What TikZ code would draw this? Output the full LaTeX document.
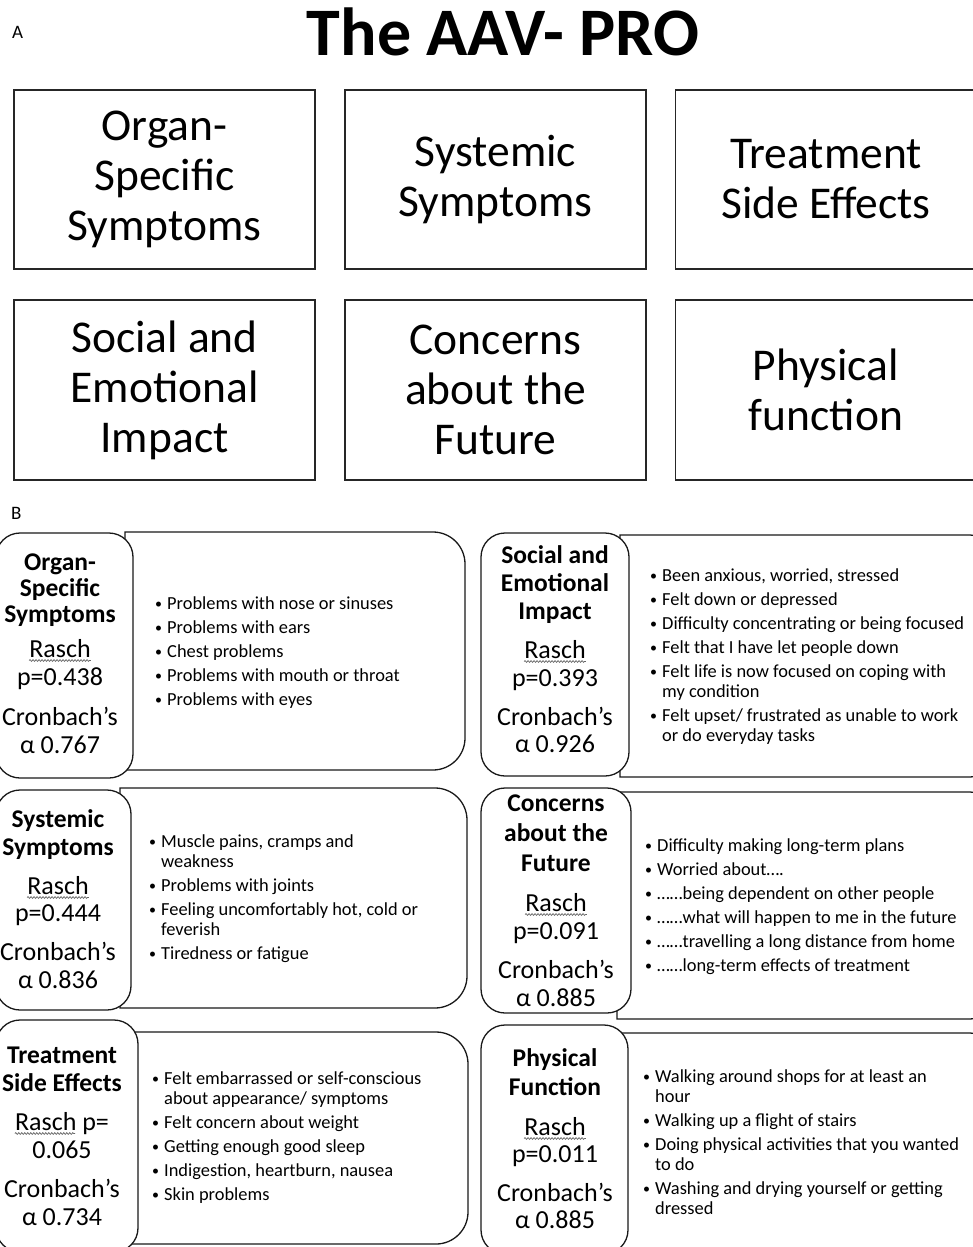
\documentclass[tikz,border=0pt]{standalone}
\usepackage{fontspec}
\setmainfont{Carlito}
\usetikzlibrary{decorations.pathmorphing,calc}
\newcommand\bul{\makebox[12pt][l]{\raisebox{0.8pt}{\fontsize{14}{14}\selectfont\textbullet}}}
% box with rounded right-hand corners: x1 y1 x2 y2 r
\newcommand\rrbox[5]{%
  \draw[rbox] (#1,#2) -- ({#3-#5},#2)
    .. controls ({#3-0.448*#5},#2) and (#3,{#2+0.448*#5}) .. (#3,{#2+#5})
    -- (#3,{#4-#5})
    .. controls (#3,{#4-0.448*#5}) and ({#3-0.448*#5},#4) .. ({#3-#5},#4)
    -- (#1,#4) -- cycle;}
\tikzset{
  abox/.style={draw=black!85, line width=1.4pt, inner sep=0pt, align=center,
    minimum width=301pt, font=\fontsize{45.5}{50}\selectfont},
  lbox/.style={draw=black!90, line width=1.3pt, rounded corners=24pt, fill=white, inner sep=0pt},
  rbox/.style={draw=black!90, line width=1.3pt, fill=white},
  lt/.style={inner sep=0pt, anchor=base, font=\fontsize{26}{28}\selectfont},
  lb/.style={inner sep=0pt, anchor=base, font=\fontsize{25.5}{28}\selectfont\bfseries},
  wave/.style={draw=black!60, line width=0.7pt, decorate,
    decoration={snake, amplitude=0.9pt, segment length=3pt}},
  btext/.style={inner sep=0pt, anchor=base west, font=\fontsize{18.4}{20}\selectfont},
  lbl/.style={inner sep=0pt, anchor=base west, font=\fontsize{19}{22}\selectfont}
}
\begin{document}
\begin{tikzpicture}[x=1pt,y=-1pt]
\useasboundingbox[fill=white] (0,0) rectangle (973,1247);

% ---------- Panel A ----------
\node[lbl] (labA) at (12,39) {A};
\node[inner sep=0pt, anchor=base, font=\fontsize{68}{70}\selectfont\bfseries] (title) at (503,56) {The AAV- PRO};

\node[abox, minimum height=179pt] (a1) at (164.5,179.5) {Organ-\\Specific\\Symptoms};
\node[abox, minimum height=179pt] (a2) at (495.5,179.5) {Systemic\\Symptoms};
\node[abox, minimum height=179pt] (a3) at (826,179.5) {Treatment\\Side Effects};
\node[abox, minimum height=180pt] (a4) at (164.5,390) {Social and\\Emotional\\Impact};
\node[abox, minimum height=180pt] (a5) at (495.5,390) {Concerns\\about the\\Future};
\node[abox, minimum height=180pt] (a6) at (826,390) {Physical\\function};

% ---------- Panel B ----------
\node[lbl] (labB) at (11,519) {B};

% right (item) boxes
\rrbox{125}{532}{465}{770}{32}
\rrbox{120}{788}{467}{1008}{32}
\rrbox{128}{1032}{468}{1244}{32}
\rrbox{620}{535}{994}{777}{24}
\rrbox{617}{792}{994}{1019}{24}
\rrbox{620}{1033}{994}{1262}{24}

% left (scale) boxes
\node[lbox, minimum width=137pt, minimum height=245pt] (b1) at (64.5,655.5) {};
\node[lbox, minimum width=135pt, minimum height=220pt] (b2) at (63.5,900) {};
\node[lbox, minimum width=142pt, minimum height=232pt] (b3) at (67,1136) {};
\node[lbox, minimum width=148pt, minimum height=243pt] (b4) at (555,654.5) {};
\node[lbox, minimum width=150pt, minimum height=225pt] (b5) at (556,900.5) {};
\node[lbox, minimum width=147pt, minimum height=229pt] (b6) at (554.5,1139.5) {};

% box 1 texts
\node[lb] (t1a) at (60,570) {Organ-};
\node[lb] (t1b) at (60,596) {Specific};
\node[lb] (t1c) at (60,622) {Symptoms};
\node[lt] (r1) at (60,657) {Rasch};
\node[lt] (p1) at (60,685) {p=0.438};
\node[lt] (c1) at (60,725) {Cronbach’s};
\node[lt] (al1) at (60,753) {α 0.767};
% box 2 texts
\node[lb] (t2a) at (58,827) {Systemic};
\node[lb] (t2b) at (58,855) {Symptoms};
\node[lt] (r2) at (58,894) {Rasch};
\node[lt] (p2) at (58,921) {p=0.444};
\node[lt] (c2) at (58,960) {Cronbach’s};
\node[lt] (al2) at (58,988) {α 0.836};
% box 3 texts
\node[lb] (t3a) at (62,1063) {Treatment};
\node[lb] (t3b) at (62,1091) {Side Effects};
\node[lt] (r3) at (62,1130) {Rasch p=};
\node[lt] (p3) at (62,1158) {0.065};
\node[lt] (c3) at (62,1197) {Cronbach’s};
\node[lt] (al3) at (62,1225) {α 0.734};
% box 4 texts
\node[lb] (t4a) at (555,563) {Social and};
\node[lb] (t4b) at (555,591) {Emotional};
\node[lb] (t4c) at (555,619) {Impact};
\node[lt] (r4) at (555,658) {Rasch};
\node[lt] (p4) at (555,686) {p=0.393};
\node[lt] (c4) at (555,725) {Cronbach’s};
\node[lt] (al4) at (555,752) {α 0.926};
% box 5 texts
\node[lb] (t5a) at (556,811) {Concerns};
\node[lb] (t5b) at (556,841) {about the};
\node[lb] (t5c) at (556,871) {Future};
\node[lt] (r5) at (556,911) {Rasch};
\node[lt] (p5) at (556,939) {p=0.091};
\node[lt] (c5) at (556,978) {Cronbach’s};
\node[lt] (al5) at (556,1006) {α 0.885};
% box 6 texts
\node[lb] (t6a) at (555,1066) {Physical};
\node[lb] (t6b) at (555,1095) {Function};
\node[lt] (r6) at (555,1135) {Rasch};
\node[lt] (p6) at (555,1162) {p=0.011};
\node[lt] (c6) at (555,1201) {Cronbach’s};
\node[lt] (al6) at (555,1228) {α 0.885};

% spell-check squiggles under "Rasch"
\foreach \r in {r1,r2,r4,r5,r6}{
  \draw[wave] ([yshift=-3.5pt]\r.base west) -- ([yshift=-3.5pt]\r.base east);
}
\draw[wave] ([yshift=-3.5pt]r3.base west) -- ([yshift=-3.5pt]$(r3.base west)!0.64!(r3.base east)$);

% item lists
\node[btext] (i1) at (155,609) {\begin{tabular}[t]{@{}l@{}l@{}}
\bul & Problems with nose or sinuses\\[4pt]
\bul & Problems with ears\\[4pt]
\bul & Chest problems\\[4pt]
\bul & Problems with mouth or throat\\[4pt]
\bul & Problems with eyes
\end{tabular}};
\node[btext] (i2) at (149,847) {\begin{tabular}[t]{@{}l@{}l@{}}
\bul & Muscle pains, cramps and\\
 & weakness\\[4pt]
\bul & Problems with joints\\[4pt]
\bul & Feeling uncomfortably hot, cold or\\
 & feverish\\[4pt]
\bul & Tiredness or fatigue
\end{tabular}};
\node[btext] (i3) at (152,1084) {\begin{tabular}[t]{@{}l@{}l@{}}
\bul & Felt embarrassed or self-conscious\\
 & about appearance/ symptoms\\[4pt]
\bul & Felt concern about weight\\[4pt]
\bul & Getting enough good sleep\\[4pt]
\bul & Indigestion, heartburn, nausea\\[4pt]
\bul & Skin problems
\end{tabular}};
\node[btext] (i4) at (650,581) {\begin{tabular}[t]{@{}l@{}l@{}}
\bul & Been anxious, worried, stressed\\[4pt]
\bul & Felt down or depressed\\[4pt]
\bul & Difficulty concentrating or being focused\\[4pt]
\bul & Felt that I have let people down\\[4pt]
\bul & Felt life is now focused on coping with\\
 & my condition\\[4pt]
\bul & Felt upset/ frustrated as unable to work\\
 & or do everyday tasks
\end{tabular}};
\node[btext] (i5) at (645,851) {\begin{tabular}[t]{@{}l@{}l@{}}
\bul & Difficulty making long-term plans\\[4pt]
\bul & Worried about….\\[4pt]
\bul & ……being dependent on other people\\[4pt]
\bul & ……what will happen to me in the future\\[4pt]
\bul & ……travelling a long distance from home\\[4pt]
\bul & ……long-term effects of treatment
\end{tabular}};
\node[btext] (i6) at (643,1082) {\begin{tabular}[t]{@{}l@{}l@{}}
\bul & Walking around shops for at least an\\
 & hour\\[4pt]
\bul & Walking up a flight of stairs\\[4pt]
\bul & Doing physical activities that you wanted\\
 & to do\\[4pt]
\bul & Washing and drying yourself or getting\\
 & dressed
\end{tabular}};
\end{tikzpicture}
\end{document}
